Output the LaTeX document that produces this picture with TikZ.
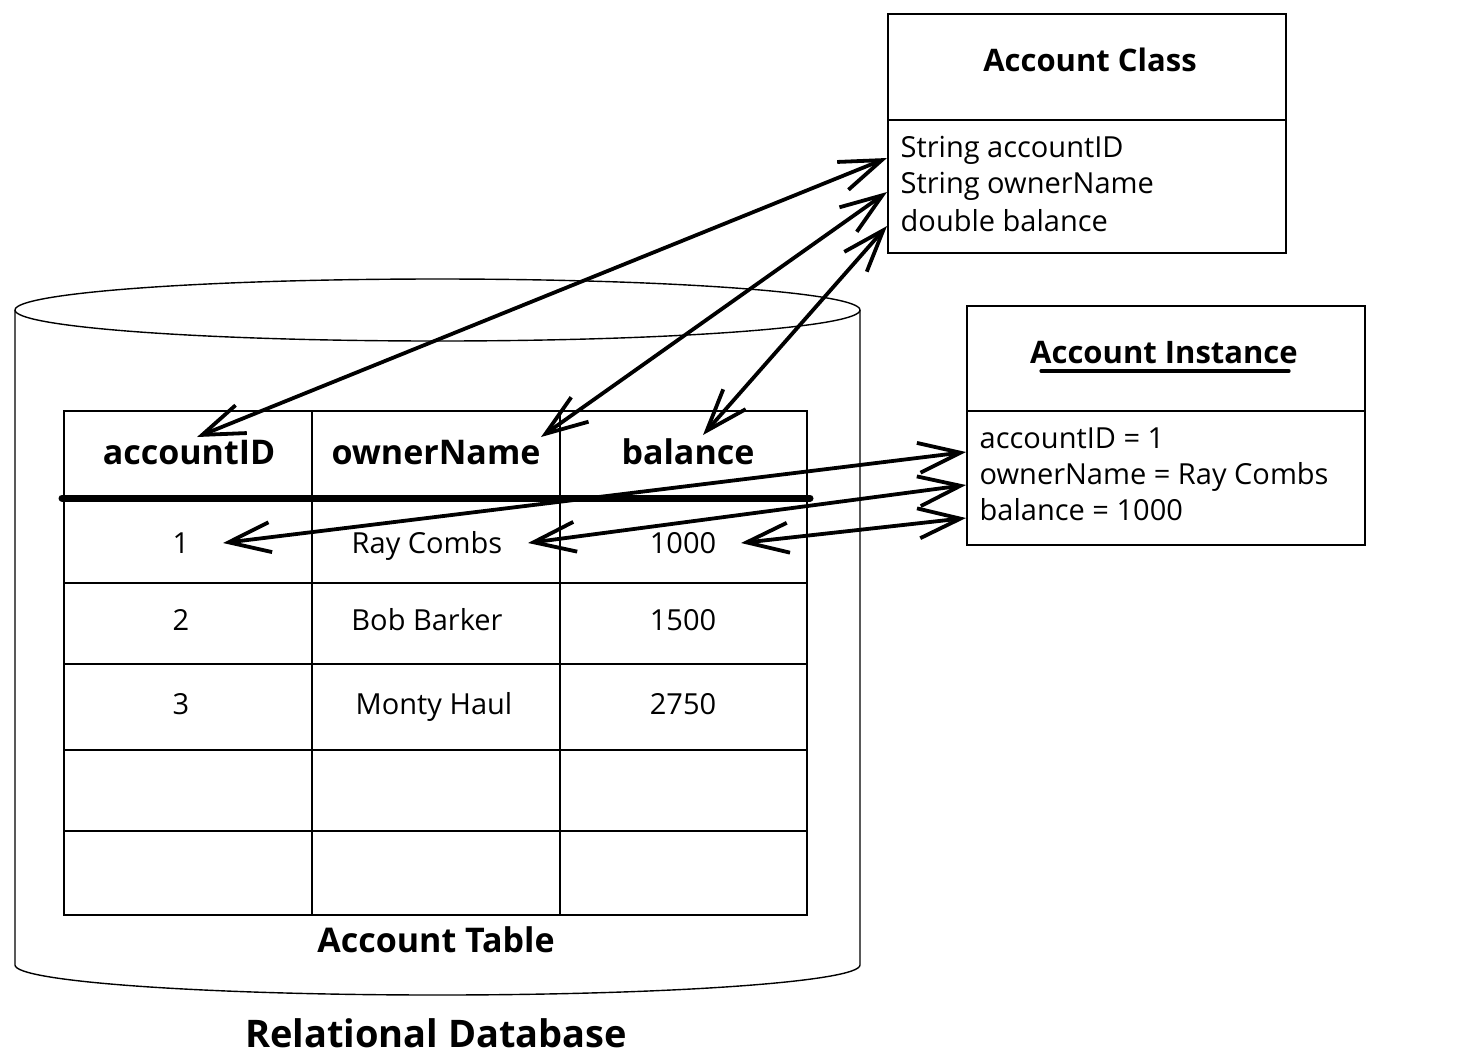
\documentclass[tikz,border=0pt]{standalone}
\usepackage{fontspec}
\setmainfont{Open Sans}
\usetikzlibrary{arrows.meta}
\tikzstyle{cell}=[text height=13.5pt, text depth=3pt, font=\fontsize{14.5}{16}\selectfont]
\tikzstyle{head}=[text height=15.5pt, text depth=3pt, font=\fontsize{17}{19}\selectfont\bfseries]
\tikzstyle{attr}=[anchor=west, inner sep=0pt, text height=13.5pt, text depth=3pt, font=\fontsize{14.5}{16}\selectfont]
\tikzstyle{umlbox}=[draw, line width=0.8pt, anchor=north west, minimum width=199pt, minimum height=119.5pt, inner sep=0pt]
\tikzstyle{link}=[line width=1.9pt, {Straight Barb[length=21pt,width=15pt]}-{Straight Barb[length=21pt,width=15pt]}]

\begin{document}
\begin{tikzpicture}[x=0.5pt, y=-0.5pt, line width=0.7pt]
    \useasboundingbox[fill=white] (0,0) rectangle (1483,1056);
    % database cylinder
    \draw (437.5,310) ellipse [x radius=211.25pt, y radius=15.5pt];
    \draw (15,310) -- (15,965) arc [start angle=180, end angle=360, x radius=211.25pt, y radius=15pt] -- (860,310);
    % table
    \draw (64,411) rectangle (807,915);
    \draw (312,411) -- (312,915);
    \draw (560,411) -- (560,915);
    \draw (64,583) -- (807,583);
    \draw (64,664) -- (807,664);
    \draw (64,750) -- (807,750);
    \draw (64,831) -- (807,831);
    \draw[line width=3.5pt, line cap=round] (62,498) -- (810,498);
    \node[head] (hID) at (189,452) {accountID};
    \node[head] (hName) at (436,452) {ownerName};
    \node[head] (hBal) at (688,452) {balance};
    \node[cell] (id1) at (181,543) {1};
    \node[cell] (name1) at (427,543) {Ray Combs};
    \node[cell] (bal1) at (683,543) {1000};
    \node[cell] (id2) at (181,620) {2};
    \node[cell] (name2) at (427,620) {Bob Barker};
    \node[cell] (bal2) at (683,620) {1500};
    \node[cell] (id3) at (181,704) {3};
    \node[cell] (name3) at (434,704) {Monty Haul};
    \node[cell] (bal3) at (683,704) {2750};
    \node[head] (tbl) at (436,940) {Account Table};
    \node[font=\fontsize{19}{22}\selectfont\bfseries] (db) at (436,1033) {Relational Database};
    % class box
    \node[umlbox] (cls) at (887,13) {};
    \draw (cls.west |- 0,120) -- (cls.east |- 0,120);
    \node[font=\fontsize{15.5}{18}\selectfont\bfseries] (clsT) at (1090,60) {Account Class};
    \node[attr] (clsA) at (900,147) {String accountID};
    \node[attr] (clsB) at (900,183) {String ownerName};
    \node[attr] (clsC) at (900,221) {double balance};
    % instance box
    \node[umlbox] (inst) at (966,305) {};
    \draw (inst.west |- 0,411) -- (inst.east |- 0,411);
    \node[font=\fontsize{15.5}{18}\selectfont\bfseries] (instT) at (1164,353) {Account Instance};
    \draw[line width=1.6pt, line cap=round] (1041,371) -- (1289,371);
    \node[attr] (instA) at (979,438) {accountID = 1};
    \node[attr] (instB) at (979,474) {ownerName = Ray Combs};
    \node[attr] (instC) at (979,510) {balance = 1000};
    % mappings
    \coordinate (pID) at (197,437);
    \coordinate (pName) at (541,437);
    \coordinate (pBal) at (703,435);
    \coordinate (pId1) at (223,543);
    \coordinate (pName1) at (528,543);
    \coordinate (pBal1) at (741,543);
    \draw[link] (pID) -- (cls.west |- 0,158);
    \draw[link] (pName) -- (cls.west |- 0,192);
    \draw[link] (pBal) -- (cls.west |- 0,226);
    \draw[link] (pId1) -- (inst.west |- 0,452);
    \draw[link] (pName1) -- (inst.west |- 0,485);
    \draw[link] (pBal1) -- (inst.west |- 0,518);
\end{tikzpicture}
\end{document}
